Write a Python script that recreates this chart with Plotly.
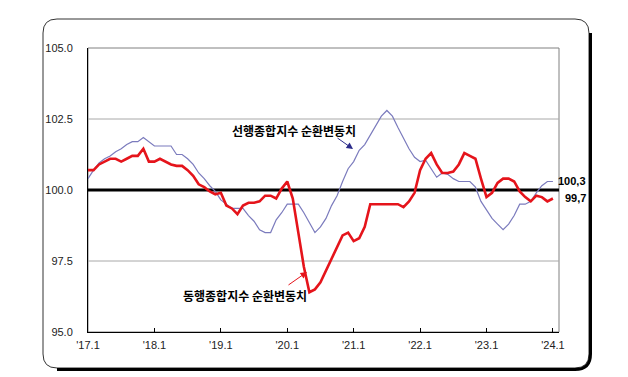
import plotly.graph_objects as go

# ---- data (monthly, Jan 2017 .. Jan 2024) ----
months = list(range(85))
tick_pos = [0, 12, 24, 36, 48, 60, 72, 84]
tick_labels = ["'17.1", "'18.1", "'19.1", "'20.1", "'21.1", "'22.1", "'23.1", "'24.1"]
y_ticks = [95.0, 97.5, 100.0, 102.5, 105.0]
grid_levels = [97.5, 102.5]

leading = [100.4, 100.7, 100.95, 101.1, 101.2, 101.35, 101.45, 101.6, 101.7, 101.7,
           101.85, 101.7, 101.55, 101.55, 101.55, 101.55, 101.25, 101.25, 101.1, 100.9,
           100.6, 100.4, 100.15, 99.95, 99.65, 99.5, 99.35, 99.35, 99.35, 99.1,
           98.9, 98.6, 98.5, 98.5, 98.95, 99.2, 99.5, 99.5, 99.5, 99.2,
           98.85, 98.5, 98.7, 99.0, 99.45, 99.8, 100.3, 100.75, 101.0, 101.4,
           101.6, 101.95, 102.3, 102.6, 102.8, 102.6, 102.2, 101.8, 101.45, 101.15,
           101.0, 101.05, 100.75, 100.45, 100.6, 100.55, 100.4, 100.3, 100.3, 100.3,
           100.1, 99.6, 99.3, 99.0, 98.8, 98.6, 98.8, 99.1, 99.5, 99.5,
           99.6, 99.9, 100.15, 100.3, 100.3]

coincident = [100.7, 100.7, 100.9, 101.0, 101.1, 101.1, 101.0, 101.1, 101.2, 101.2,
              101.45, 101.0, 101.0, 101.1, 101.0, 100.9, 100.85, 100.85, 100.7, 100.5,
              100.2, 100.1, 99.95, 99.85, 99.9, 99.45, 99.35, 99.15, 99.45, 99.55,
              99.55, 99.6, 99.8, 99.8, 99.7, 100.05, 100.3, 99.7, 98.5, 97.3,
              96.4, 96.5, 96.75, 97.15, 97.6, 98.0, 98.4, 98.5, 98.2, 98.3,
              98.7, 99.5, 99.5, 99.5, 99.5, 99.5, 99.5, 99.4, 99.6, 99.9,
              100.7, 101.1, 101.3, 100.9, 100.6, 100.6, 100.65, 100.9, 101.3, 101.2,
              101.1, 100.4, 99.75, 99.9, 100.25, 100.4, 100.4, 100.3, 99.95, 99.75,
              99.6, 99.8, 99.75, 99.6, 99.7]

lead_name = "선행종합지수 순환변동치"
coin_name = "동행종합지수 순환변동치"
lead_last = "100,3"
coin_last = "99,7"

# ---- layout geometry (pixels) ----
W, H = 628, 377
L, R, T, B = 88, 559, 48, 332


def P(px, py):
    return ((px - L) / (R - L), (B - py) / (B - T))


def path(cmds):
    out = []
    for c in cmds:
        if isinstance(c, str):
            out.append(c)
        else:
            x, y = P(*c)
            out.append(f"{x:.5f},{y:.5f}")
    return " ".join(out)


x0, y0, x1, y1, r = 43, 19, 589, 368, 14
box = path(["M", (x0 + r, y0), "L", (x1 - r, y0), "Q", (x1, y0), (x1, y0 + r),
            "L", (x1, y1 - r), "Q", (x1, y1), (x1 - r, y1), "L", (x0 + r, y1),
            "Q", (x0, y1), (x0, y1 - r), "L", (x0, y0 + r), "Q", (x0, y0), (x0 + r, y0), "Z"])
shadow = path(["M", (x1 + 1.5, y0 + r), "L", (x1 + 1.5, y1 - r), "Q", (x1 + 1.5, y1 + 1.5),
               (x1 - r, y1 + 1.5), "L", (x0 + r, y1 + 1.5)])

fig = go.Figure()
fig.add_trace(go.Scatter(x=months, y=leading, mode="lines",
                         line=dict(color="#7b7bbd", width=1.2), name=lead_name))
fig.add_trace(go.Scatter(x=months, y=coincident, mode="lines",
                         line=dict(color="#e5141b", width=2.6), name=coin_name))

shapes = [
    dict(type="path", xref="paper", yref="paper", path=box, line=dict(color="#333333", width=1), layer="below"),
    dict(type="path", xref="paper", yref="paper", path=shadow, line=dict(color="#000000", width=3), layer="below"),
    dict(type="rect", xref="paper", yref="paper", x0=0, y0=0, x1=1, y1=1,
         line=dict(color="#808080", width=1), layer="below"),
]
for g in grid_levels:
    shapes.append(dict(type="line", xref="paper", yref="y", x0=0, x1=1, y0=g, y1=g,
                       line=dict(color="#a8a8a8", width=1), layer="below"))
shapes.append(dict(type="line", xref="paper", yref="y", x0=0, x1=1, y0=100, y1=100,
                   line=dict(color="#000000", width=3), layer="between"))

ax_font = dict(family="Liberation Sans", size=11, color="#222222")
lab_font = dict(family="Noto Sans CJK KR", size=12, color="#000000")

ann = []
lx, ly = P(294, 130)
ann.append(dict(xref="paper", yref="paper", x=lx, y=ly, text=f"<b>{lead_name}</b>",
                showarrow=False, font=lab_font, xanchor="center", yanchor="middle"))
cx, cy = P(245, 295)
ann.append(dict(xref="paper", yref="paper", x=cx, y=cy, text=f"<b>{coin_name}</b>",
                showarrow=False, font=lab_font, xanchor="center", yanchor="middle"))
# arrows
bx, by = P(353, 149)
ann.append(dict(xref="paper", yref="paper", x=bx, y=by, text="", showarrow=True,
                ax=-17, ay=-12, arrowhead=2, arrowsize=1.3, arrowwidth=1, arrowcolor="#2b2b8a"))
rx, ry = P(307, 272)
ann.append(dict(xref="paper", yref="paper", x=rx, y=ry, text="", showarrow=True,
                ax=-20, ay=14, arrowhead=2, arrowsize=1.3, arrowwidth=1, arrowcolor="#e5141b"))
# end labels
ex1, ey1 = P(588, 181)
ann.append(dict(xref="paper", yref="paper", x=ex1, y=ey1, text=f"<b>{lead_last}</b>", showarrow=False,
                font=dict(family="Liberation Sans", size=11, color="#000"), xanchor="right", yanchor="middle"))
ex2, ey2 = P(588, 198)
ann.append(dict(xref="paper", yref="paper", x=ex2, y=ey2, text=f"<b>{coin_last}</b>", showarrow=False,
                font=dict(family="Liberation Sans", size=11, color="#000"), xanchor="right", yanchor="middle"))

fig.update_layout(
    width=W, height=H,
    margin=dict(l=L, r=W - R, t=T, b=H - B, pad=0),
    paper_bgcolor="white", plot_bgcolor="white",
    showlegend=False,
    shapes=shapes, annotations=ann,
    xaxis=dict(range=[0, 85.1], tickvals=tick_pos, ticktext=tick_labels,
               ticks="inside", ticklen=4, tickcolor="#000", showgrid=False, zeroline=False,
               showline=True, linecolor="#000", linewidth=1, tickfont=ax_font,
               ticklabelstandoff=3, fixedrange=True),
    yaxis=dict(range=[95, 105], tickvals=y_ticks, ticktext=[f"{v:.1f}" for v in y_ticks],
               ticks="", showgrid=False, zeroline=False,
               showline=True, linecolor="#000", linewidth=1, tickfont=ax_font,
               ticklabelstandoff=12, fixedrange=True),
)

fig.write_html("out.html", config={"displayModeBar": False},
               post_script="document.body.style.margin='0';document.body.style.overflow='hidden';")
